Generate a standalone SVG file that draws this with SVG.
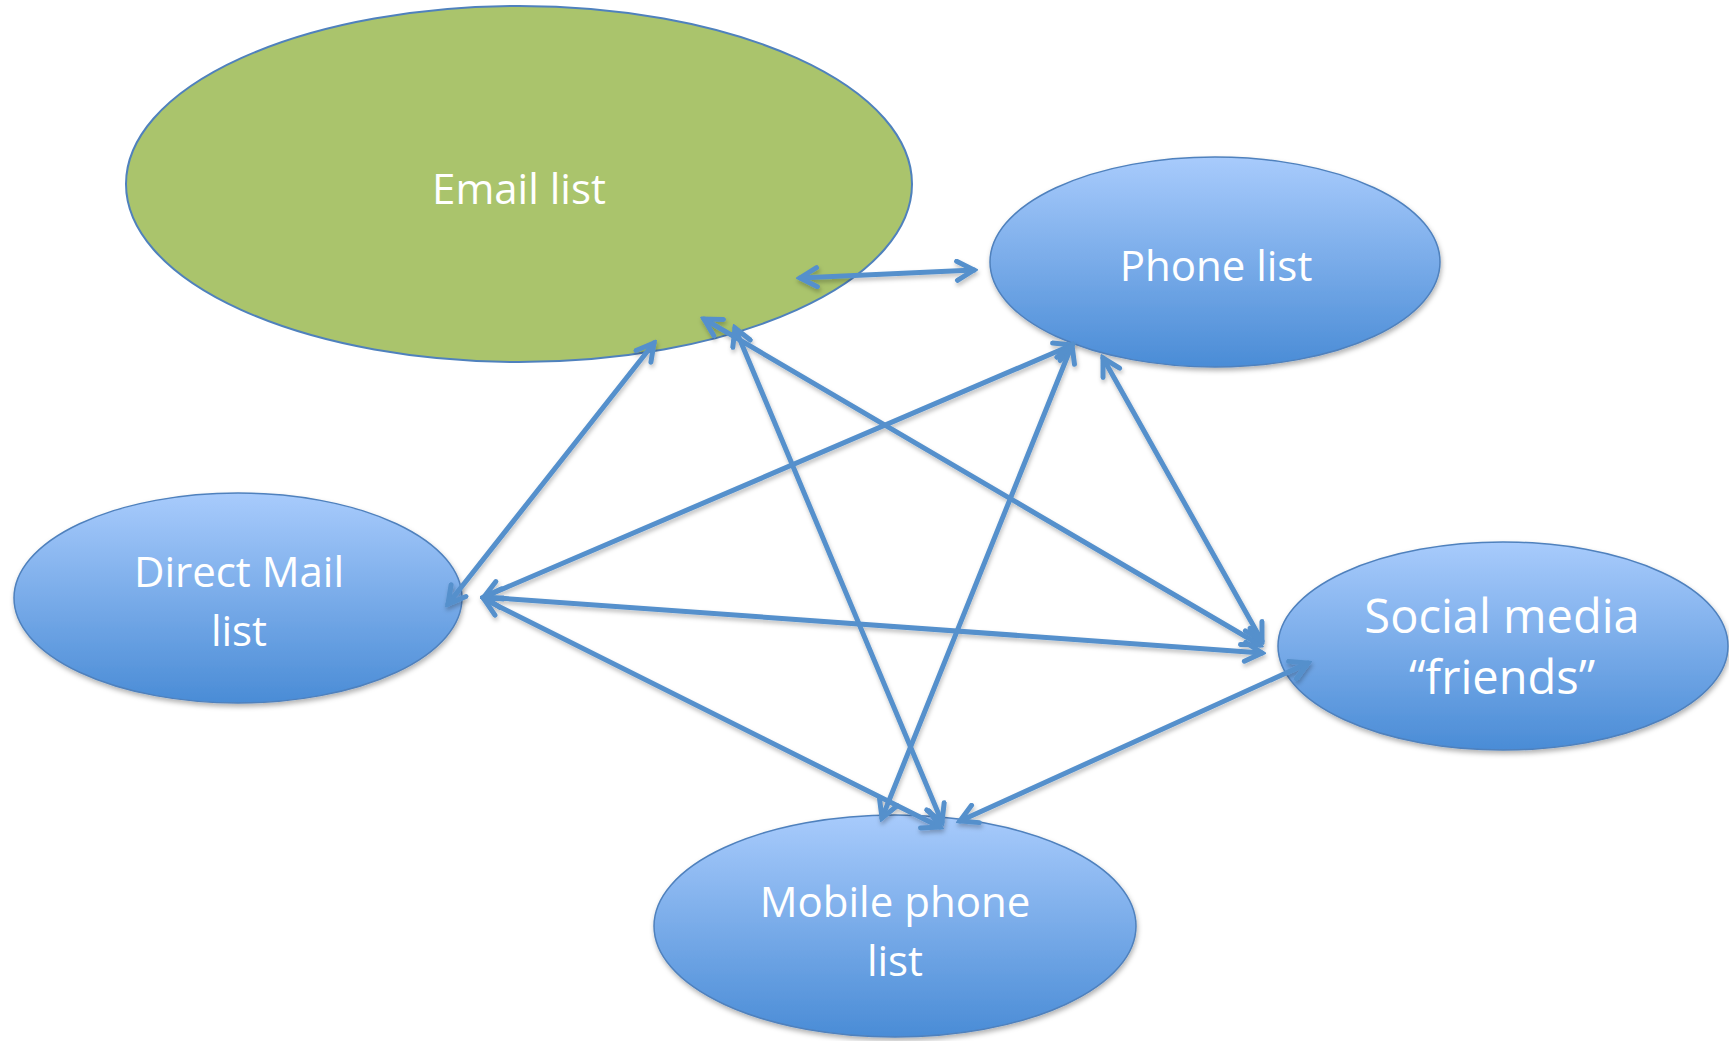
<svg xmlns="http://www.w3.org/2000/svg" width="1729" height="1041" viewBox="0 0 1729 1041">
<style>
.node-blue{fill:url(#blueGrad);stroke:#4F81BD;stroke-width:1.5;filter:url(#shadow)}
.node-green{fill:#AAC46C;stroke:#4F81BD;stroke-width:2}
.label{font-family:"Open Sans","Liberation Sans",sans-serif;font-size:42px;fill:#FFFFFF;text-anchor:middle}
.big{font-size:47px}
.conn{stroke:#5590CC;stroke-width:5;fill:none;stroke-linecap:round;marker-start:url(#head);marker-end:url(#head)}
</style>
<defs>
<linearGradient id="blueGrad" x1="0" y1="0" x2="0" y2="1">
<stop offset="0" stop-color="#A8CBFC"/>
<stop offset="1" stop-color="#4A8CD6"/>
</linearGradient>
<filter id="shadow" x="-10%" y="-10%" width="120%" height="125%">
<feDropShadow dx="1" dy="3" stdDeviation="2.5" flood-color="#000000" flood-opacity="0.3"/>
</filter>
<filter id="lshadow" x="-10%" y="-10%" width="120%" height="120%">
<feDropShadow dx="1" dy="3" stdDeviation="2" flood-color="#000000" flood-opacity="0.25"/>
</filter>
<marker id="head" viewBox="0 0 24 24" markerWidth="24" markerHeight="24" refX="20" refY="12" markerUnits="userSpaceOnUse" orient="auto-start-reverse">
<path d="M3,2.5 L20,12 L3,21.5" fill="none" stroke="#5590CC" stroke-width="5" stroke-linecap="round" stroke-linejoin="miter"/>
</marker>
</defs>
<rect width="1729" height="1041" fill="#FFFFFF"/>
<g id="node-email">
<ellipse class="node-green" cx="519" cy="184" rx="393" ry="178"/>
<text class="label" x="519" y="204">Email list</text>
</g>
<g id="node-phone">
<ellipse class="node-blue" cx="1215" cy="262" rx="225" ry="105"/>
<text class="label" x="1216" y="281">Phone list</text>
</g>
<g id="node-directmail">
<ellipse class="node-blue" cx="238" cy="598" rx="224" ry="105"/>
<text class="label" x="239" y="587">Direct Mail</text>
<text class="label" x="239" y="646">list</text>
</g>
<g id="node-social">
<ellipse class="node-blue" cx="1503" cy="646" rx="225" ry="104"/>
<text class="label big" x="1502" y="633">Social media</text>
<text class="label big" x="1502" y="694">“friends”</text>
</g>
<g id="node-mobile">
<ellipse class="node-blue" cx="895" cy="926" rx="241" ry="111"/>
<text class="label" x="895" y="917">Mobile phone</text>
<text class="label" x="895" y="976">list</text>
</g>
<g id="connectors" filter="url(#lshadow)">
<line class="conn" x1="800" y1="278" x2="974" y2="270"/>
<line class="conn" x1="654" y1="343" x2="448" y2="604"/>
<line class="conn" x1="704" y1="319" x2="1260" y2="645"/>
<line class="conn" x1="735" y1="328" x2="942" y2="822"/>
<line class="conn" x1="1072" y1="345" x2="484" y2="597"/>
<line class="conn" x1="1072" y1="345" x2="882" y2="818"/>
<line class="conn" x1="1103" y1="358" x2="1262" y2="641"/>
<line class="conn" x1="1308" y1="663" x2="960" y2="821"/>
<line class="conn" x1="484" y1="599" x2="940" y2="827"/>
<line class="conn" x1="484" y1="597" x2="1262" y2="653"/>
</g>
</svg>
